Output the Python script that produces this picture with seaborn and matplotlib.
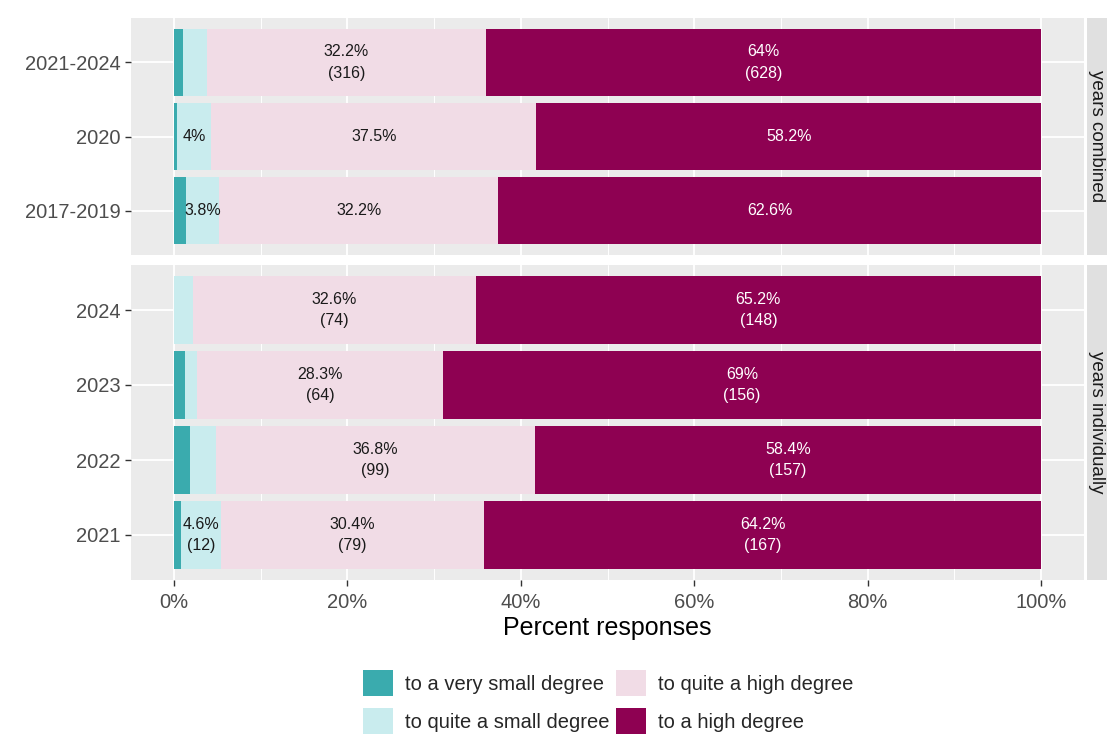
import pandas as pd
import matplotlib
matplotlib.use("Agg")
import matplotlib.pyplot as plt
import seaborn as sns
from matplotlib.patches import Patch
from matplotlib.ticker import MultipleLocator, FuncFormatter

# Data (percent of responses)
categories = ["to a very small degree", "to quite a small degree",
              "to quite a high degree", "to a high degree"]
colors = ["#3AABAE", "#C9ECEE", "#F1DCE6", "#8E0152"]

rows_combined = ["2021-2024", "2020", "2017-2019"]
rows_indiv = ["2024", "2023", "2022", "2021"]

very_small_comb = [1.0, 0.3, 1.4]
quite_small_comb = [2.8, 4.0, 3.8]
quite_high_comb = [32.2, 37.5, 32.2]
high_comb = [64.0, 58.2, 62.6]

very_small_ind = [0.0, 1.3, 1.8, 0.8]
quite_small_ind = [2.2, 1.4, 3.0, 4.6]
quite_high_ind = [32.6, 28.3, 36.8, 30.4]
high_ind = [65.2, 69.0, 58.4, 64.2]

# response counts shown under the percentages (None = not shown)
n_quite_small_comb = [None, None, None]
n_quite_high_comb = [316, None, None]
n_high_comb = [628, None, None]
n_quite_small_ind = [None, None, None, 12]
n_quite_high_ind = [74, 64, 99, 79]
n_high_ind = [148, 156, 157, 167]

sns.set_theme(style="darkgrid", rc={
    "axes.facecolor": "#EBEBEB",
    "grid.color": "white",
    "figure.facecolor": "white",
})
plt.rcParams["font.family"] = ["Liberation Sans", "DejaVu Sans"]

W, H = 1107, 746
fig = plt.figure(figsize=(W / 100, H / 100), dpi=100)
px_l, px_r = 130.6, 1084.4
ax_top = fig.add_axes([px_l / W, 1 - 255 / H, (px_r - px_l) / W, (255 - 18) / H])
ax_bot = fig.add_axes([px_l / W, 1 - 580 / H, (px_r - px_l) / W, (580 - 265) / H])


def draw_panel(ax, rows, series, counts, strip_label, show_x):
    df = pd.DataFrame({"row": rows})
    for cat, vals in zip(categories, series):
        df[cat] = vals
    cum = df[categories].cumsum(axis=1)
    # draw cumulative totals from the largest down so the bars stack
    for cat, col in reversed(list(zip(categories, colors))):
        sns.barplot(x=cum[cat], y=df["row"], orient="h", color=col,
                    width=0.9, saturation=1, linewidth=0, ax=ax, order=rows)
    # labels
    for i, r in enumerate(rows):
        left = 0.0
        for j, cat in enumerate(categories):
            v = df.loc[i, cat]
            if v >= 3.5:
                n = counts[j][i] if counts[j] is not None else None
                txt = f"{v:g}%" if n is None else f"{v:g}%\n({n})"
                tc = "white" if j == 3 else "#1A1A1A"
                ax.text(left + v / 2, i, txt, ha="center", va="center",
                        fontsize=11.5, color=tc, linespacing=1.55)
            left += v
    ax.set_xlim(-5, 105)
    ax.set_ylim(len(rows) - 1 + 0.6, -0.6)
    ax.xaxis.set_major_locator(MultipleLocator(20))
    ax.xaxis.set_minor_locator(MultipleLocator(10))
    ax.xaxis.set_major_formatter(FuncFormatter(lambda x, p: f"{x:.0f}%"))
    ax.grid(which="major", axis="both", color="white", linewidth=1.3)
    ax.grid(which="minor", axis="x", color="white", linewidth=0.7)
    ax.set_axisbelow(True)
    ax.tick_params(axis="y", left=True, length=4, width=1, color="#333333",
                   labelsize=14.5, labelcolor="#4D4D4D", pad=3)
    ax.tick_params(axis="x", which="major", bottom=show_x, length=4, width=1,
                   color="#333333", labelsize=14.5, labelcolor="#4D4D4D",
                   labelbottom=show_x, pad=5)
    ax.tick_params(axis="x", which="minor", length=0)
    ax.set_ylabel("")
    ax.set_xlabel("")
    for s in ax.spines.values():
        s.set_visible(False)
    # facet strip on the right
    pos = ax.get_position()
    sax = fig.add_axes([1087 / W, pos.y0, 34 / W, pos.height])
    sax.set_facecolor("#E0E0E0")
    sax.set_xticks([])
    sax.set_yticks([])
    for s in sax.spines.values():
        s.set_visible(False)
    fig.text(1097 / W, pos.y0 + pos.height / 2, strip_label, rotation=270,
             ha="center", va="center", fontsize=13.5, color="#1A1A1A")


draw_panel(ax_top, rows_combined,
           [very_small_comb, quite_small_comb, quite_high_comb, high_comb],
           [None, n_quite_small_comb, n_quite_high_comb, n_high_comb],
           "years combined", False)
draw_panel(ax_bot, rows_indiv,
           [very_small_ind, quite_small_ind, quite_high_ind, high_ind],
           [None, n_quite_small_ind, n_quite_high_ind, n_high_ind],
           "years individually", True)

ax_bot.set_xlabel("Percent responses", fontsize=18, color="black", labelpad=3)

handles = [Patch(facecolor=c, edgecolor="none", label=l) for c, l in zip(colors, categories)]
fig.legend(handles=handles, loc="center", bbox_to_anchor=(608 / W, 1 - 702 / H),
           ncol=2, frameon=False, fontsize=14.5, handlelength=1.5,
           handleheight=1.6, handletextpad=0.6, columnspacing=0.3,
           labelspacing=0.6)

fig.savefig("out.png", dpi=100)
